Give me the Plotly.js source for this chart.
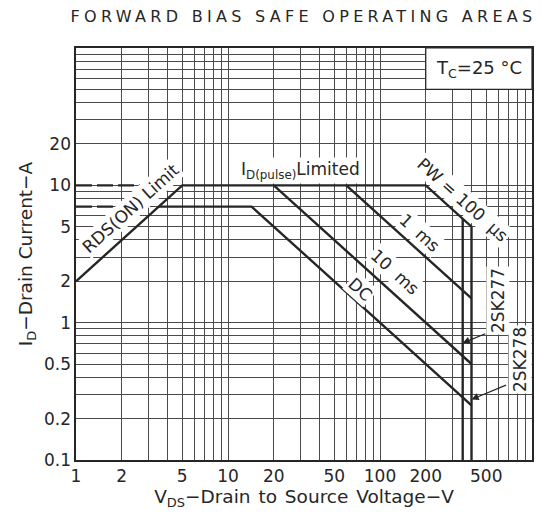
<!DOCTYPE html>
<html><head><meta charset="utf-8">
<script src="https://cdn.plot.ly/plotly-3.0.1.min.js"></script>
<style>body{margin:0;background:#fff} .gtitle{letter-spacing:4.3px} .g-xtitle text{word-spacing:2px}</style>
</head><body><div id="chart" style="width:547px;height:516px"></div>
<script>
// ---- data ----
const limitV = [1, 5, 200, 400, 400];      // RDS(ON) limit, ID(pulse) 10 A, PW=100us, 2SK278 voltage
const limitI = [2, 10, 10, 5, 0.1];
const sk277V = [350, 350];
const sk277I = [5.71, 0.1];
const ms1V = [60, 400];
const ms1I = [10, 1.5];
const ms10V = [20, 400];
const ms10I = [10, 0.5];
const dcV = [3.5, 14.3, 400];
const dcI = [7, 7, 0.25];
const dash10V = [1, 2.65];
const dash10I = [10, 10];
const dash7V = [1, 1.75];
const dash7I = [7, 7];

const xGrid = [1,2,3,4,5,6,7,8,9,10,20,30,40,50,60,70,80,90,100,200,300,400,500,600,700,800,900,1000];
const xLabeled = [1,2,5,10,20,50,100,200,500];
const yGrid = [0.1,0.2,0.3,0.4,0.5,0.6,0.7,0.8,0.9,1,2,3,4,5,6,7,8,9,10,20,30,40,50,60,70,80,90,100];
const yLabeled = [0.1,0.2,0.5,1,2,5,10,20];

const L = Math.log10;
const F = 'DejaVu Sans, sans-serif';
const ink = '#262626';
const gridC = '#4a4a4a';

function line(x, y, dash) {
  return {x: x, y: y, type: 'scatter', mode: 'lines', hoverinfo: 'skip',
    line: {color: ink, width: 2.4, dash: dash || 'solid'}, showlegend: false};
}
const traces = [
  line(limitV, limitI), line(sk277V, sk277I), line(ms1V, ms1I), line(ms10V, ms10I),
  line(dcV, dcI), line(dash10V, dash10I, '16px,5px'), line(dash7V, dash7I, '16px,5px')
];

function lab(text, x, y, ang) {
  return {text: text, x: L(x), y: L(y), xref: 'x', yref: 'y', showarrow: false,
    xanchor: 'center', yanchor: 'middle',
    textangle: ang || 0, bgcolor: '#fff', borderpad: 1, font: {family: F, size: 17, color: ink}};
}
function arrow(x, y, ax, ay) {
  return {text: '', x: L(x), y: L(y), xref: 'x', yref: 'y', showarrow: true, ax: ax, ay: ay,
    arrowhead: 2, arrowsize: 1.2, arrowwidth: 1.2, arrowcolor: ink, standoff: 0};
}
const annotations = [
  lab('RDS(ON) Limit', 2.3, 6.84, -42),
  lab('I<sub>D(pulse)</sub>Limited', 29.8, 12.9, 0),
  lab('PW = 100  µs', 351, 7.8, 42),
  lab('1  ms', 183, 4.49, 42),
  lab('10  ms', 125.6, 2.34, 42),
  lab('DC', 73.9, 1.76, 42),
  lab('2SK277', 597, 1.46, -90),
  lab('2SK278', 834, 0.535, -90),
  arrow(350, 0.71, 24, -10),
  arrow(400, 0.276, 36, -15),
  {text: 'T<sub>C</sub>=25 °C', x: (L(200) + 3) / 2 / 3, y: (L(50) + 1 + 3) / 2 / 3,
   xref: 'paper', yref: 'paper', xanchor: 'center', yanchor: 'middle', showarrow: false,
   font: {family: F, size: 18, color: ink}}
];

const shapes = [
  {type: 'rect', xref: 'paper', yref: 'paper', x0: L(200) / 3, x1: 1, y0: (L(50) + 1) / 3, y1: 1,
   fillcolor: '#fff', line: {color: ink, width: 1.2}, layer: 'above'}
];

function axis(grid, labeled, range, title, standoff) {
  return {
    type: 'log', range: range, tickmode: 'array', tickvals: labeled, ticktext: labeled.map(String),
    ticks: '', showgrid: true, gridcolor: gridC, gridwidth: 1,
    minor: {tickmode: 'array', tickvals: grid, showgrid: true, gridcolor: gridC, gridwidth: 1, ticks: ''},
    showline: true, mirror: true, linecolor: ink, linewidth: 1.6, zeroline: false,
    tickfont: {family: F, size: 17, color: ink}, fixedrange: true,
    title: {text: title, font: {family: F, size: 18.5, color: ink}, standoff: standoff}
  };
}

const layout = {
  width: 547, height: 516,
  margin: {l: 76, r: 15, t: 48, b: 56},
  paper_bgcolor: '#fff', plot_bgcolor: '#fff',
  title: {text: 'FORWARD BIAS SAFE OPERATING AREAS', xref: 'container', yref: 'container',
    x: 0.555, y: 1 - 16.5 / 516, xanchor: 'center', yanchor: 'middle',
    font: {family: F, size: 16, color: ink}},
  xaxis: axis(xGrid, xLabeled, [0, 3], 'V<sub>DS</sub>−Drain to Source Voltage−V', 2),
  yaxis: axis(yGrid, yLabeled, [-1, 2], 'I<sub>D</sub>−Drain Current−A', 6),
  shapes: shapes,
  annotations: annotations
};

Plotly.newPlot('chart', traces, layout, {displayModeBar: false, staticPlot: true});
</script></body></html>
